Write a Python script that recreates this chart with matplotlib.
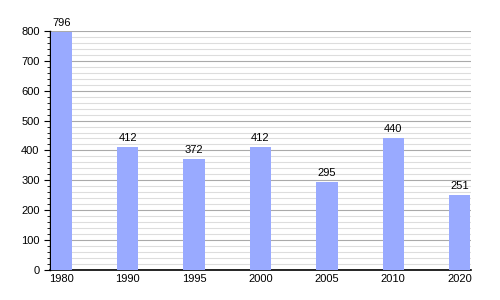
import matplotlib
matplotlib.use("Agg")
import matplotlib.pyplot as plt
from matplotlib.ticker import MultipleLocator

# Données
annees = ["1980", "1990", "1995", "2000", "2005", "2010", "2020"]
population = [796, 412, 372, 412, 295, 440, 251]

plt.rcParams['font.family'] = ['Liberation Sans', 'DejaVu Sans']

fig = plt.figure(figsize=(5, 3), dpi=100)
ax = fig.add_axes([0.1, 0.1, 0.842, 0.797])

x = range(len(annees))
ax.bar(x, population, width=0.32, color='#99aaff', zorder=3)

# Étiquettes de valeur au-dessus des barres
for xi, v in zip(x, population):
    ax.text(xi, v + 14, str(v), ha='center', va='bottom', fontsize=8)

ax.set_xlim(-0.17, len(annees) - 1 + 0.17)
ax.set_ylim(0, 800)
ax.set_xticks(list(x))
ax.set_xticklabels(annees)
ax.yaxis.set_major_locator(MultipleLocator(100))
ax.yaxis.set_minor_locator(MultipleLocator(20))

ax.grid(which='major', axis='y', color='#aaaaaa', linewidth=0.8, zorder=0)
ax.grid(which='minor', axis='y', color='#dddddd', linewidth=0.8, zorder=0)

for s in ['top', 'right']:
    ax.spines[s].set_visible(False)
ax.spines['bottom'].set_linewidth(1.2)
ax.spines['left'].set_linewidth(1.0)

ax.tick_params(axis='x', length=0, labelsize=8, pad=3)
ax.tick_params(axis='y', which='major', length=4, labelsize=8)
ax.tick_params(axis='y', which='minor', length=2)

fig.savefig("out.png", dpi=100)
